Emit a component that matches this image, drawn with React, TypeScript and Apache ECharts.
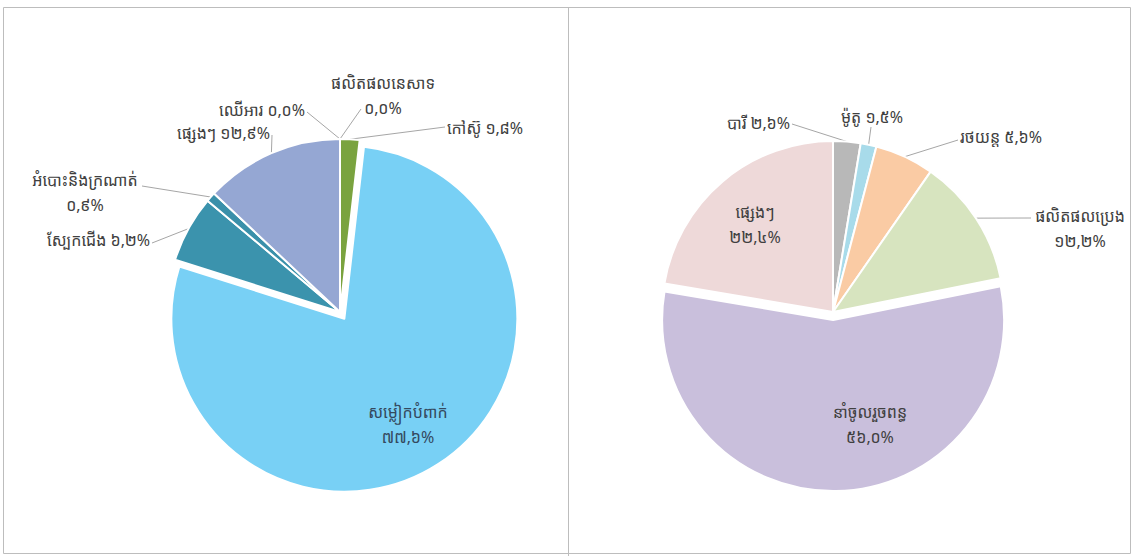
import React, { useEffect, useRef } from 'react';
import * as echarts from 'echarts';

// ---- data ----
const leftCategories = ['ផលិតផលនេសាទ', 'កៅស៊ូ', 'សម្លៀកបំពាក់', 'ស្បែកជើង', 'អំបោះនិងក្រណាត់', 'ផ្សេងៗ', 'ឈើអារ'];
const leftValues = [0.0, 1.8, 77.6, 6.2, 0.9, 12.9, 0.0];
const leftExploded = [false, false, true, false, false, false, false];

const rightCategories = ['បារី', 'ម៉ូតូ', 'រថយន្ត', 'ផលិតផលប្រេង', 'នាំចូលរួចពន្ធ', 'ផ្សេងៗ'];
const rightValues = [2.6, 1.5, 5.6, 12.2, 56.0, 22.4];
const rightExploded = [false, false, false, false, true, false];

// ---- styles ----
const leftColors = ['#5B8A3A', '#7AA33F', '#78D0F5', '#3B93AD', '#3A90AA', '#95A7D3', '#8B6D4B'];
const rightColors = ['#B8B8B8', '#A8DBEA', '#FACBA4', '#D7E4BF', '#C9BFDC', '#EED9D9'];

type LabelCfg = { x: number; y: number; align: 'left' | 'right' | 'center'; multi: boolean; inside?: boolean; end?: number[]; color?: string };

const leftLabels: LabelCfg[] = [
  { x: 383, y: 95, align: 'center', multi: true, end: [361, 109] },
  { x: 447, y: 128, align: 'left', multi: false, end: [445, 127] },
  { x: 408, y: 424, align: 'center', multi: true, inside: true, color: '#34495E' },
  { x: 150, y: 240, align: 'right', multi: false, end: [152, 243] },
  { x: 85, y: 192, align: 'center', multi: true, end: [142, 186] },
  { x: 270, y: 133, align: 'right', multi: false, end: [272, 135] },
  { x: 305, y: 110, align: 'right', multi: false, end: [307, 112] },
];

const rightLabels: LabelCfg[] = [
  { x: 790, y: 123, align: 'right', multi: false, end: [792, 124] },
  { x: 872, y: 117, align: 'center', multi: false, end: [871, 127] },
  { x: 960, y: 137, align: 'left', multi: false, end: [958, 140] },
  { x: 1080, y: 228, align: 'center', multi: true, end: [1031, 218] },
  { x: 870, y: 424, align: 'center', multi: true, inside: true },
  { x: 755, y: 224, align: 'center', multi: true, inside: true },
];

const FONT = '"Noto Sans Khmer", "Khmer OS", "Khmer OS System", "DejaVu Sans", sans-serif';
const EXPLODE = 8;
const khmerDigits = '០១២៣៤៥៦៧៨៩';
const pct = (v: number) =>
  v.toFixed(1).replace('.', ',').replace(/[0-9]/g, (d) => khmerDigits[+d]) + '%';

function buildSeries(
  names: string[],
  values: number[],
  colors: string[],
  exploded: boolean[],
  labels: LabelCfg[],
  center: number[],
  radius: number
) {
  const base = {
    type: 'pie',
    radius,
    startAngle: 90,
    clockwise: true,
    avoidLabelOverlap: false,
    emphasis: { disabled: true },
    itemStyle: { borderColor: '#ffffff', borderWidth: 2 },
  };
  // main series: all slices except exploded ones (kept transparent), all labels
  const main = {
    ...base,
    z: 3,
    center,
    labelLine: { show: true, lineStyle: { color: '#A6A6A6', width: 1 }, length: 10, length2: 10 },
    label: { fontFamily: FONT, fontSize: 16, color: '#404040', lineHeight: 25 },
    labelLayout: (params: any) => {
      const cfg = labels[params.dataIndex];
      const res: any = { x: cfg.x, y: cfg.y, align: cfg.align, verticalAlign: 'middle' };
      if (cfg.end && params.labelLinePoints) {
        res.labelLinePoints = [params.labelLinePoints[0], cfg.end, cfg.end];
      }
      return res;
    },
    data: names.map((n, i) => ({
      name: n,
      value: values[i],
      itemStyle: exploded[i]
        ? { color: 'rgba(0,0,0,0)', borderWidth: 0 }
        : { color: colors[i] },
      label: {
        position: labels[i].inside ? 'inside' : 'outside',
        color: labels[i].color || '#404040',
        formatter: (p: any) => p.name + (labels[i].multi ? '\n' : ' ') + pct(p.value),
      },
      labelLine: { show: !labels[i].inside },
    })),
  };
  // overlay series: exploded slices, shifted outward along their mid-angle
  const total = values.reduce((a, b) => a + b, 0);
  const overlays: any[] = [];
  let cum = 0;
  values.forEach((v, i) => {
    const mid = ((cum + v / 2) / total) * Math.PI * 2;
    cum += v;
    if (!exploded[i]) return;
    overlays.push({
      ...base,
      silent: true,
      z: 1,
      center: [center[0] + EXPLODE * Math.sin(mid), center[1] - EXPLODE * Math.cos(mid)],
      label: { show: false },
      labelLine: { show: false },
      data: names.map((n, j) => ({
        name: n,
        value: values[j],
        itemStyle: j === i ? { color: colors[j] } : { color: 'rgba(0,0,0,0)', borderWidth: 0 },
      })),
    });
  });
  return [main, ...overlays];
}

export default function App() {
  const ref = useRef<HTMLDivElement>(null);
  useEffect(() => {
    if (!ref.current) return;
    const chart = echarts.init(ref.current, undefined, { renderer: 'svg' });
    chart.setOption({
      animation: false,
      backgroundColor: '#ffffff',
      graphic: [
        { type: 'rect', shape: { x: 3.5, y: 7.5, width: 1127, height: 546 }, style: { fill: 'none', stroke: '#BDBDBD', lineWidth: 1 }, silent: true, z: -1 },
        { type: 'line', shape: { x1: 568.5, y1: 7.5, x2: 568.5, y2: 556 }, style: { stroke: '#BDBDBD', lineWidth: 1 }, silent: true, z: -1 },
      ],
      series: [
        ...buildSeries(leftCategories, leftValues, leftColors, leftExploded, leftLabels, [340, 312], 173),
        ...buildSeries(rightCategories, rightValues, rightColors, rightExploded, rightLabels, [833, 312], 171),
      ],
    });
    return () => chart.dispose();
  }, []);
  return (
    <div
      ref={ref}
      style={{ position: 'absolute', left: 0, top: 0, width: 1135, height: 556 }}
    />
  );
}
